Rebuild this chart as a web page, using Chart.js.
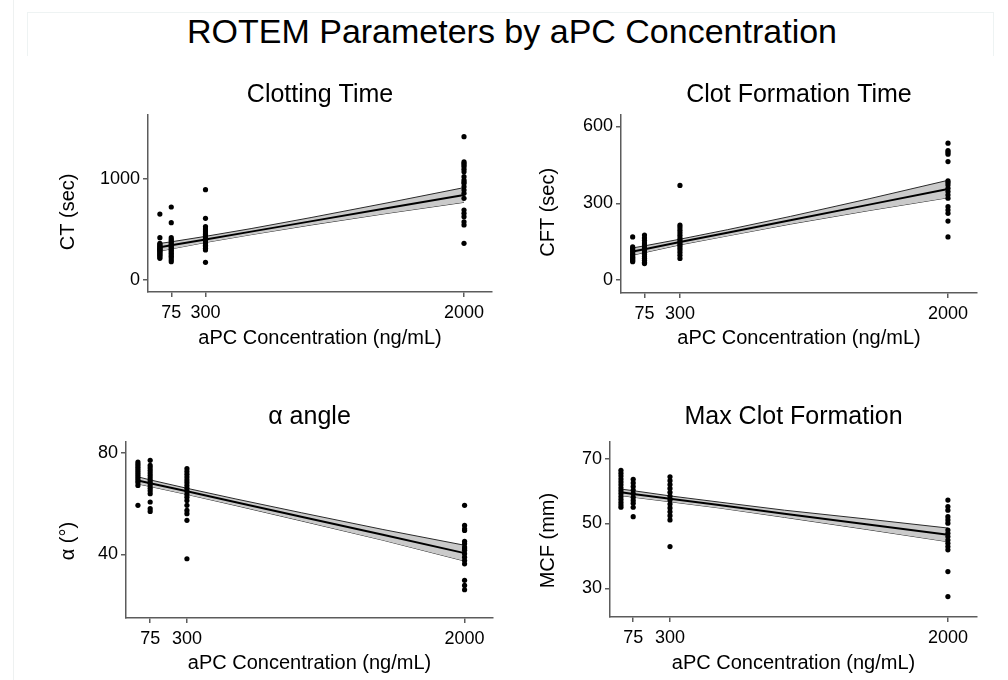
<!DOCTYPE html>
<html><head><meta charset="utf-8">
<script src="https://cdn.jsdelivr.net/npm/chart.js@4.4.0/dist/chart.umd.min.js"></script>
<style>
body{margin:0;background:#fff;width:1008px;height:680px;overflow:hidden;position:relative;font-family:"Liberation Sans",Arial,Helvetica,sans-serif;}
canvas{position:absolute;}
#maintitle{position:absolute;left:8px;top:14px;width:1008px;text-align:center;font-size:34px;line-height:34px;color:#000;white-space:nowrap;}
#frameL{position:absolute;left:13px;top:0;width:1px;height:680px;background:#eef1f1;}
#frameT{position:absolute;left:27px;top:12px;width:965px;height:43px;border:1px solid #eef3f3;border-bottom:none;}
</style></head>
<body>
<div id="frameL"></div><div id="frameT"></div>
<div id="maintitle">ROTEM Parameters by aPC Concentration</div>
<canvas id="p1"></canvas><canvas id="p2"></canvas><canvas id="p3"></canvas><canvas id="p4"></canvas>
<script>
// ---------- data ----------
const xGroups = [0, 75, 300, 2000];           // aPC concentration (ng/mL)
const xTicks = [75, 300, 2000];
const bandX = [0, 75, 300, 600, 1000, 1500, 2000];
const xTitleText = 'aPC Concentration (ng/mL)';

// Clotting Time (CT, sec)
const ct0    = [653, 419, 363, 350, 340, 330, 320, 312, 305, 298, 290, 280, 270, 260, 250, 240, 228, 215];
const ct75   = [723, 568, 419, 400, 385, 370, 355, 340, 325, 310, 295, 280, 265, 250, 235, 220, 200, 181];
const ct300  = [894, 611, 528, 505, 485, 465, 450, 435, 420, 405, 390, 375, 360, 345, 330, 315, 297, 175];
const ct2000 = [1419, 1171, 1155, 1139, 1122, 1096, 1072, 1023, 990, 973, 957, 924, 891, 858, 809, 693, 660, 627, 577, 545, 363];
const ctFit  = [324, 343, 402, 479, 583, 713, 842];
const ctUp   = [362, 378, 432, 509, 620, 765, 915];
const ctLo   = [286, 308, 372, 449, 546, 661, 769];
const ctYTicks = [0, 1000];

// Clot Formation Time (CFT, sec)
const cft0    = [169, 130, 124, 118, 112, 106, 100, 95, 90, 85, 80, 76, 72];
const cft75   = [176, 165, 155, 145, 137, 130, 122, 115, 108, 100, 93, 86, 78, 70, 65];
const cft300  = [370, 215, 205, 195, 185, 175, 165, 157, 150, 142, 135, 127, 118, 108, 97, 85];
const cft2000 = [535, 506, 500, 492, 463, 388, 381, 372, 359, 346, 333, 320, 287, 274, 261, 231, 169];
const cftFit  = [112, 121, 149, 185, 234, 295, 356];
const cftUp   = [126, 134, 160, 197, 249, 318, 390];
const cftLo   = [98, 108, 138, 173, 219, 272, 322];
const cftYTicks = [0, 300, 600];

// alpha angle (deg)
const a0    = [76.3, 75.5, 74.6, 73.8, 73.0, 72.2, 71.4, 70.6, 69.8, 69.0, 68.2, 67.1, 59.3];
const a75   = [77.0, 75.0, 74.0, 73.0, 72.0, 71.0, 70.0, 69.0, 68.0, 67.0, 66.0, 65.0, 63.9, 60.6, 58.0, 56.9];
const a300  = [73.7, 72.6, 71.5, 70.4, 69.3, 68.2, 67.1, 66.0, 64.9, 63.7, 62.5, 61.2, 59.3, 57.3, 56.0, 53.4, 38.3];
const a2000 = [59.3, 51.4, 50.1, 49.4, 45.1, 44.2, 42.9, 42.2, 41.6, 40.3, 38.9, 37.6, 36.3, 29.8, 27.8, 26.1];
const aFit  = [69.1, 68.0, 64.8, 60.5, 54.8, 47.7, 40.5];
const aUp   = [70.5, 69.3, 66.0, 61.8, 56.4, 49.8, 43.6];
const aLo   = [67.7, 66.7, 63.6, 59.2, 53.2, 45.6, 37.4];
const aYTicks = [40, 80];

// Max Clot Formation (MCF, mm)
const m0    = [66.4, 65.5, 64.6, 63.7, 62.8, 61.9, 61.0, 60.1, 59.2, 58.3, 57.4, 56.5, 55.7, 55.0];
const m75   = [63.6, 62.5, 61.4, 60.3, 59.2, 58.1, 57.1, 56.2, 55.0, 52.1];
const m300  = [64.4, 63.2, 62.0, 60.8, 59.6, 58.4, 57.2, 56.0, 54.8, 53.6, 52.4, 51.1, 42.9];
const m2000 = [57.2, 55.2, 54.1, 52.1, 51.1, 50.1, 48.0, 47.0, 46.0, 44.9, 43.9, 42.9, 41.9, 35.2, 27.5];
const mFit  = [59.6, 59.1, 57.6, 55.7, 53.0, 49.8, 46.5];
const mUp   = [60.6, 60.1, 58.5, 56.6, 54.1, 51.4, 48.6];
const mLo   = [58.6, 58.1, 56.7, 54.8, 51.9, 48.2, 44.4];
const mYTicks = [30, 50, 70];

// ---------- drawing ----------
const FONT = '"Liberation Sans", Arial, Helvetica, sans-serif';
const AX = '#5c5c5c';

function makePanel(p) {
  const cv = document.getElementById(p.id);
  cv.style.left = p.box[0] + 'px'; cv.style.top = p.box[1] + 'px';
  cv.width = p.box[2]; cv.height = p.box[3];
  const pts = [];
  xGroups.forEach((xv, i) => p.groups[i].forEach(v => pts.push({x: xv, y: v})));
  const toXY = arr => bandX.map((xv, i) => ({x: xv, y: arr[i]}));
  new Chart(cv, {
    type: 'scatter',
    data: { datasets: [
      {data: pts, pointRadius: 2.6, pointBackgroundColor: '#000', pointBorderWidth: 0, backgroundColor: '#000'},
      {type: 'line', data: toXY(p.fit), borderColor: '#000', borderWidth: 2, pointRadius: 0, fill: false, tension: 0},
      {type: 'line', data: toXY(p.up), borderColor: '#2a2a2a', borderWidth: 1, pointRadius: 0, fill: '+1', backgroundColor: '#cacaca', tension: 0},
      {type: 'line', data: toXY(p.lo), borderColor: '#2a2a2a', borderWidth: 1, pointRadius: 0, fill: false, tension: 0}
    ]},
    options: {
      responsive: false, animation: false, events: [], devicePixelRatio: 1,
      layout: {padding: {left: 0, right: p.padR, top: 0, bottom: 0}},
      plugins: {
        legend: {display: false}, tooltip: {enabled: false},
        title: {display: true, text: p.title, fullSize: false, color: '#000',
          font: {family: FONT, size: 25, weight: 'normal', lineHeight: 1.2},
          padding: {top: p.tp[0], bottom: p.tp[1]}}
      },
      scales: {
        x: {type: 'linear', min: p.xr[0], max: p.xr[1],
          afterFit: s => { s.height = p.xh; },
          afterBuildTicks: s => { s.ticks = xTicks.map(v => ({value: v})); },
          grid: {drawOnChartArea: false, drawTicks: true, tickLength: 5, color: AX, lineWidth: 1.5},
          border: {display: true, color: AX, width: 1.5},
          ticks: {color: '#000', font: {family: FONT, size: 18}, padding: 5, maxRotation: 0, autoSkip: false, callback: v => String(v)},
          title: {display: true, text: xTitleText, color: '#000', font: {family: FONT, size: 20, lineHeight: 1.2}, padding: {top: 0, bottom: 5}}
        },
        y: {type: 'linear', min: p.yr[0], max: p.yr[1],
          afterFit: s => { s.width = p.yw; },
          afterBuildTicks: s => { s.ticks = p.yTicks.map(v => ({value: v})); },
          grid: {drawOnChartArea: false, drawTicks: true, tickLength: 5, color: AX, lineWidth: 1.5},
          border: {display: true, color: AX, width: 1.5},
          ticks: {color: '#000', font: {family: FONT, size: 18}, padding: 3, autoSkip: false, callback: v => String(v)},
          title: {display: true, text: p.yTitle, color: '#000', font: {family: FONT, size: 20, lineHeight: 1.2}, padding: {top: p.ytp, bottom: 0}}
        }
      }
    }
  });
}

makePanel({id: 'p1', box: [40, 70, 460, 285], padR: 8, xh: 63, yw: 108, tp: [10, 5], ytp: 16,
  xr: [-78, 2184], yr: [-119, 1634], yTicks: ctYTicks, title: 'Clotting Time', yTitle: 'CT (sec)   ',
  groups: [ct0, ct75, ct300, ct2000], fit: ctFit, up: ctUp, lo: ctLo});
makePanel({id: 'p2', box: [515, 70, 475, 285], padR: 13, xh: 62, yw: 106, tp: [10, 5], ytp: 21,
  xr: [-74, 2184], yr: [-50, 645], yTicks: cftYTicks, title: 'Clot Formation Time', yTitle: 'CFT (sec)   ',
  groups: [cft0, cft75, cft300, cft2000], fit: cftFit, up: cftUp, lo: cftLo});
makePanel({id: 'p3', box: [40, 390, 460, 290], padR: 7, xh: 62, yw: 86, tp: [12, 10], ytp: 16,
  xr: [-73, 2174], yr: [15, 84.2], yTicks: aYTicks, title: 'α angle', yTitle: 'α (°)    ',
  groups: [a0, a75, a300, a2000], fit: aFit, up: aUp, lo: aLo});
makePanel({id: 'p4', box: [515, 390, 475, 290], padR: 13, xh: 63, yw: 95, tp: [12, 10], ytp: 21,
  xr: [-67, 2178], yr: [21.2, 75.1], yTicks: mYTicks, title: 'Max Clot Formation', yTitle: 'MCF (mm)    ',
  groups: [m0, m75, m300, m2000], fit: mFit, up: mUp, lo: mLo});
</script>
</body></html>
